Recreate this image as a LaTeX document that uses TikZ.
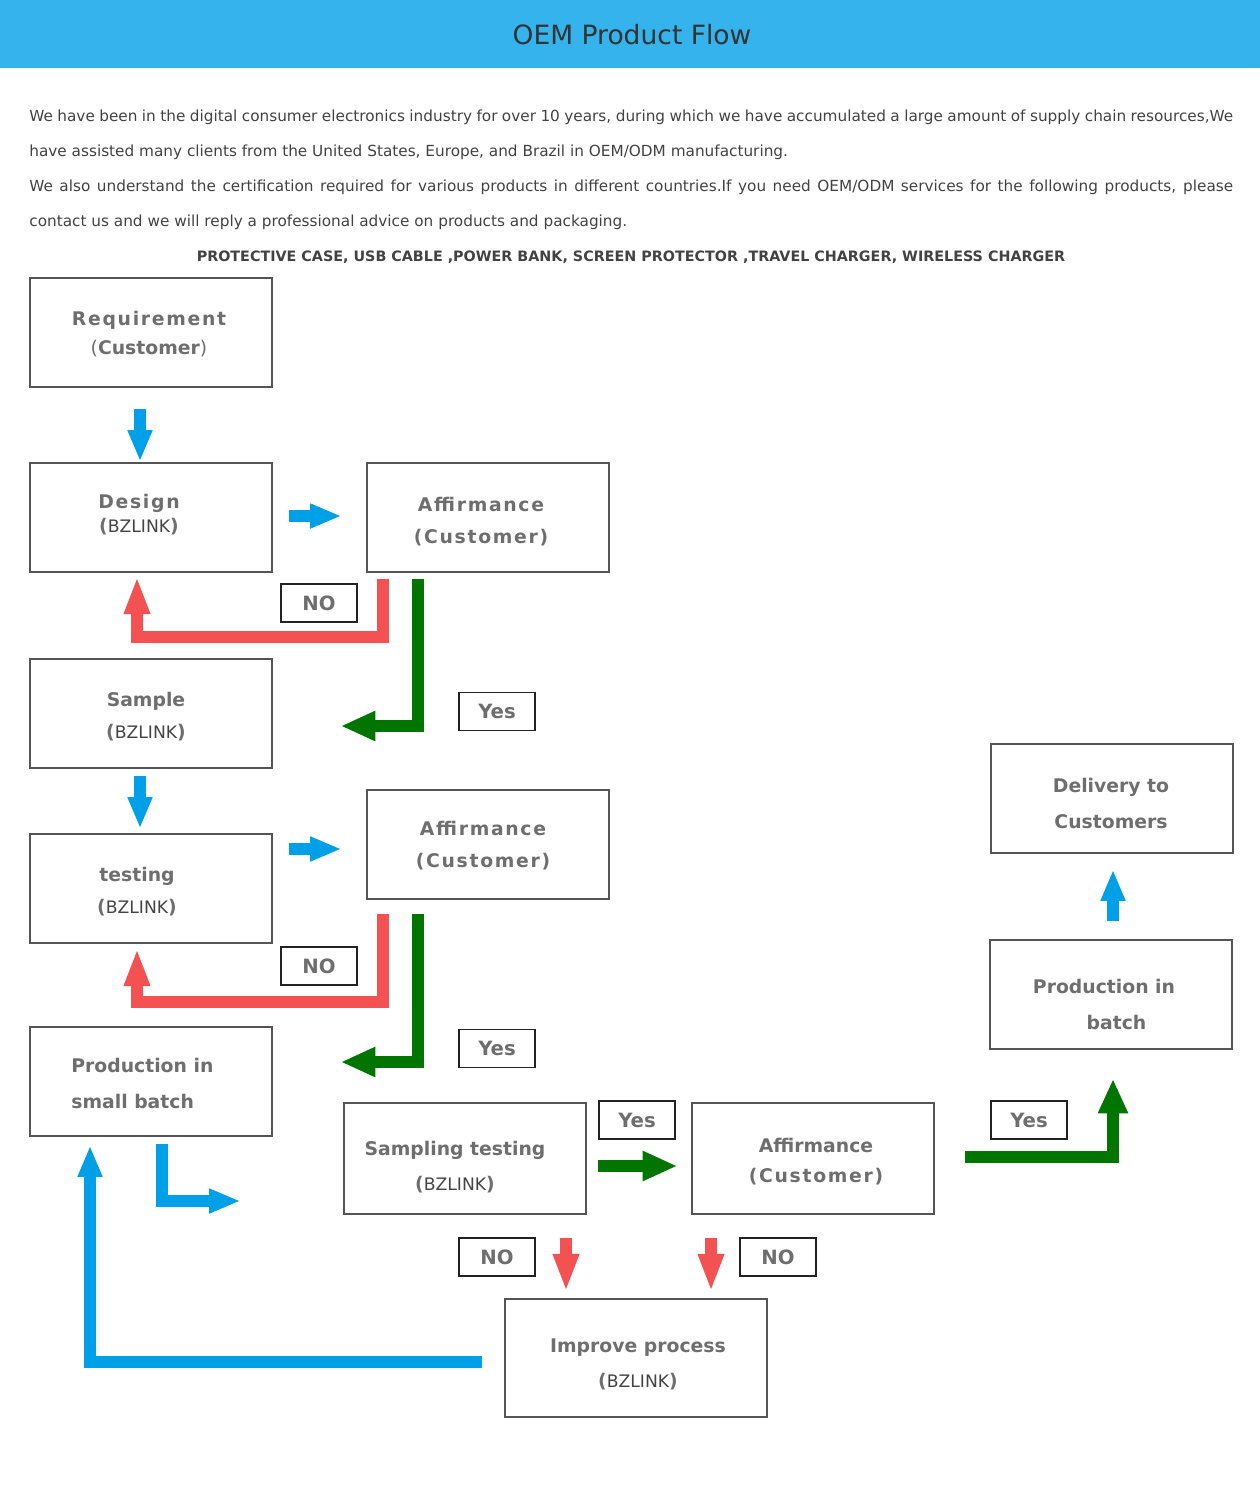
\documentclass[tikz,border=0pt]{standalone}
\usepackage{fontspec}
\setmainfont{DejaVu Sans}
\newfontfamily\spacedfont{DejaVu Sans}[LetterSpace=9]
\usepackage{tikz}
\usetikzlibrary{
  arrows.meta,
  calc,
  positioning
}
\usepackage{xcolor}
\definecolor{headblue}{RGB}{53, 179, 236}
\definecolor{titlegray}{RGB}{51, 51, 51}
\definecolor{bodygray}{RGB}{66, 66, 66}
\definecolor{boxgray}{RGB}{85, 85, 85}
\definecolor{txtgray}{RGB}{110, 110, 110}
\definecolor{bzgray}{RGB}{68, 68, 68}
\definecolor{lblborder}{RGB}{34, 34, 34}
\definecolor{flowblue}{RGB}{0, 160, 233}
\definecolor{flowred}{RGB}{244, 82, 82}
\definecolor{flowgreen}{RGB}{0, 117, 0}
\newcommand{\bzlink}{\textbf{(}{\mdseries\fontsize{9.8}{17}\selectfont\color{bzgray}BZLINK}\textbf{)}}
\tikzset{
  % Bloklar
  procbox/.style  = {draw=boxgray, line width=1.1pt, minimum width=4.84cm,
                     minimum height=2.18cm, inner sep=0pt},
  boxtxt/.style   = {text=txtgray, align=center, inner sep=0pt,
                     font=\fontsize{10.7}{17}\selectfont\bfseries},
  % Matnlar
  bodytxt/.style  = {text=bodygray, inner sep=0pt, anchor=west,
                     font=\fontsize{8.7}{10}\selectfont},
  % Yorliqlar
  lblbox/.style   = {draw=lblborder, line width=1.1pt, minimum width=1.52cm,
                     minimum height=0.76cm, inner sep=0pt, text=txtgray,
                     font=\fontsize{11.2}{13}\selectfont\bfseries},
  % Strelkalar
  flowarr/.style  = {line width=6.8pt, line join=miter},
  bluearr/.style  = {flowarr, draw=flowblue,
                     -{Triangle[length=17pt,width=14.5pt,line width=0pt]}},
  redarr/.style   = {flowarr, draw=flowred,
                     -{Triangle[length=20pt,width=15.5pt,line width=0pt]}},
  greenarr/.style = {flowarr, draw=flowgreen,
                     -{Triangle[length=19pt,width=17.5pt,line width=0pt]}},
}
\begin{document}
\begin{tikzpicture}[x=0.02cm, y=-0.02cm]
  \useasboundingbox (0,0) rectangle (1260,1500);
  % Sarlavha
  \fill[headblue] (0,0) rectangle (1260,68);
  \node[text=titlegray, font=\fontsize{15.1}{18}\selectfont] (title) at (632,35) {OEM Product Flow};
  % Kirish matni
  \node[bodytxt] (intro1) at (29,117) {\makebox[24.08cm][s]{We have been in the digital consumer electronics industry for over 10 years, during which we have accumulated a large amount of supply chain resources,We}};
  \node[bodytxt] (intro2) at (29,152) {have assisted many clients from the United States, Europe, and Brazil in OEM/ODM manufacturing.};
  \node[bodytxt] (intro3) at (29,187) {\makebox[24.08cm][s]{We also understand the certification required for various products in different countries.If you need OEM/ODM services for the following products, please}};
  \node[bodytxt] (intro4) at (29,222) {contact us and we will reply a professional advice on products and packaging.};
  \node[text=bodygray, inner sep=0pt, font=\fontsize{8.15}{10}\selectfont\bfseries] (products) at (631,257)
    {PROTECTIVE CASE, USB CABLE ,POWER BANK, SCREEN PROTECTOR ,TRAVEL CHARGER, WIRELESS CHARGER};
  % Bloklar
  \node[procbox] (req)      at (151,332.5) {};
  \node[procbox] (design)   at (151,517.5) {};
  \node[procbox] (aff1)     at (488,517.5) {};
  \node[procbox] (sample)   at (151,713.5) {};
  \node[procbox] (aff2)     at (488,844.5) {};
  \node[procbox] (testing)  at (151,888.5) {};
  \node[procbox] (psmall)   at (151,1081.5) {};
  \node[procbox, minimum height=2.22cm] (samp) at (465,1158.5) {};
  \node[procbox, minimum height=2.22cm] (aff3) at (813,1158.5) {};
  \node[procbox, minimum width=5.24cm, minimum height=2.36cm] (improve) at (636,1358) {};
  \node[procbox] (pbatch)   at (1111,994.5) {};
  \node[procbox] (delivery) at (1112,798.5) {};
  % Blok matnlari
  \node[boxtxt] (reqtxt)  at (149,334.5)  {{\spacedfont\bfseries Requirement}\\[-0.5pt]{\mdseries(}Customer{\mdseries)}};
  \node[boxtxt] (destxt)  at (139,514.5)  {{\spacedfont\bfseries Design}\\[-3pt]\bzlink};
  \node[boxtxt] (aff1txt) at (481,521.5)  {{\spacedfont\bfseries Affirmance}\\[1pt]{\spacedfont\bfseries(Customer)}};
  \node[boxtxt] (samtxt)  at (146,716.5)  {Sample\\[1pt]\bzlink};
  \node[boxtxt] (aff2txt) at (483,845.5)  {{\spacedfont\bfseries Affirmance}\\[1pt]{\spacedfont\bfseries(Customer)}};
  \node[boxtxt] (testtxt) at (137,891.5)  {testing\\[1pt]\bzlink};
  \node[boxtxt, align=left, anchor=west] (psmtxt) at (71,1083.5) {Production in\\[3pt]small batch};
  \node[boxtxt] (samptxt) at (455,1167)   {Sampling testing\\[2.5pt]\bzlink};
  \node[boxtxt] (aff3txt) at (816,1162)   {Affirmance\\[0pt]{\spacedfont\bfseries(Customer)}};
  \node[boxtxt] (imptxt)  at (638,1364.5) {Improve process\\[3pt]\bzlink};
  \node[boxtxt] (pbtxt)   at (1104,1004.5) {Production in\\[3pt]\hspace*{0.5cm}batch};
  \node[boxtxt] (deltxt)  at (1111,803.5) {Delivery to\\[3pt]Customers};
  % Yorliqlar
  \node[lblbox] (no1)  at (319,603)    {NO};
  \node[lblbox] (yes1) at (497,711.5)  {Yes};
  \node[lblbox] (no2)  at (319,966)    {NO};
  \node[lblbox] (yes2) at (497,1048.5) {Yes};
  \node[lblbox] (yes3) at (637,1120)   {Yes};
  \node[lblbox] (yes4) at (1029,1120)  {Yes};
  \node[lblbox] (no3)  at (497,1257)   {NO};
  \node[lblbox] (no4)  at (778,1257)   {NO};
  % Ko'k strelkalar
  \draw[bluearr] ($(req.south)+(-11,21)$) -- ($(design.north)+(-11,-2)$);
  \draw[bluearr] ($(design.east)+(16,-1.5)$) -- ($(aff1.west)+(-26,-1.5)$);
  \draw[bluearr] ($(sample.south)+(-11,7)$) -- ($(testing.north)+(-11,-6)$);
  \draw[bluearr] ($(testing.east |- aff2.west)+(16,4.5)$) -- ($(aff2.west)+(-26,4.5)$);
  \draw[bluearr] ($(psmall.south)+(11,7)$) |- ($(samp.west)+(-104,42.5)$);
  \draw[bluearr] ($(improve.west)+(-22,4)$) -| ($(psmall.south)+(-61,10)$);
  \draw[bluearr] ($(pbatch.north)+(2,-18)$) -- ($(delivery.south)+(1,17)$);
  % Qizil strelkalar
  \draw[redarr] ($(aff1.south)+(-105,6)$) |- ($(design.south)+(-14,64)$) -- ($(design.south)+(-14,6)$);
  \draw[redarr] ($(aff2.south)+(-105,14)$) |- ($(testing.south)+(-14,58)$) -- ($(testing.south)+(-14,7)$);
  \draw[redarr] ($(samp.south)+(101,23)$) -- ($(improve.north)+(-70,-9)$);
  \draw[redarr] ($(aff3.south)+(-102,23)$) -- ($(improve.north)+(75,-9)$);
  % Yashil strelkalar
  \draw[greenarr] ($(aff1.south)+(-70,6)$) |- ($(sample.east)+(69,12.5)$);
  \draw[greenarr] ($(aff2.south)+(-70,14)$) |- ($(psmall.east)+(69,-19.5)$);
  \draw[greenarr] ($(samp.east)+(11,7.5)$) -- ($(aff3.west)+(-15,7.5)$);
  \draw[greenarr] ($(aff3.east)+(30,-1.5)$) -| ($(pbatch.south)+(2,30)$);
\end{tikzpicture}
\end{document}
